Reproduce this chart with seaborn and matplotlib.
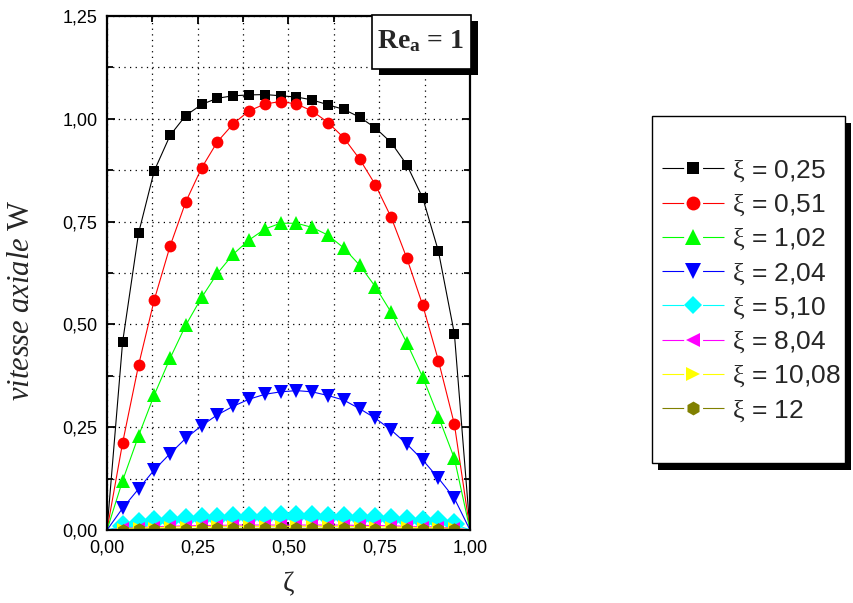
import matplotlib
matplotlib.use("Agg")
import matplotlib.pyplot as plt
from matplotlib.patches import Rectangle
from matplotlib.lines import Line2D
from matplotlib.legend_handler import HandlerTuple
from matplotlib.ticker import MultipleLocator, FuncFormatter
import seaborn as sns
import pandas as pd

# radial coordinate zeta (24 stations across the annulus)
zeta = [0.000, 0.043, 0.087, 0.130, 0.174, 0.217, 0.261, 0.304, 0.348, 0.391,
        0.435, 0.478, 0.522, 0.565, 0.609, 0.652, 0.696, 0.739, 0.783, 0.826,
        0.870, 0.913, 0.957, 1.000]

# axial velocity W for each axial position xi
w_025 = [0, 0.457, 0.722, 0.873, 0.960, 1.008, 1.035, 1.050, 1.056, 1.058,
         1.059, 1.056, 1.053, 1.046, 1.034, 1.023, 1.004, 0.978, 0.942, 0.888,
         0.807, 0.678, 0.477, 0]
w_051 = [0, 0.212, 0.401, 0.559, 0.691, 0.798, 0.881, 0.944, 0.988, 1.019,
         1.036, 1.042, 1.036, 1.019, 0.991, 0.954, 0.902, 0.840, 0.760, 0.661,
         0.546, 0.412, 0.257, 0]
w_102 = [0, 0.120, 0.229, 0.328, 0.418, 0.498, 0.566, 0.624, 0.671, 0.705,
         0.732, 0.746, 0.746, 0.736, 0.717, 0.686, 0.644, 0.592, 0.529, 0.455,
         0.371, 0.276, 0.174, 0]
w_204 = [0, 0.053, 0.100, 0.146, 0.186, 0.223, 0.254, 0.280, 0.301, 0.318,
         0.330, 0.336, 0.339, 0.336, 0.327, 0.316, 0.295, 0.272, 0.243, 0.209,
         0.170, 0.126, 0.077, 0]
w_510 = [0, 0.010, 0.016, 0.022, 0.024, 0.027, 0.028, 0.030, 0.031, 0.032,
         0.032, 0.033, 0.035, 0.035, 0.032, 0.032, 0.030, 0.028, 0.027, 0.024,
         0.022, 0.021, 0.014, 0]
w_804 = [0, 0.004, 0.006, 0.008, 0.009, 0.010, 0.011, 0.011, 0.012, 0.012,
         0.012, 0.012, 0.012, 0.012, 0.012, 0.012, 0.011, 0.011, 0.010, 0.009,
         0.008, 0.007, 0.005, 0]
w_1008 = [0, 0.003, 0.005, 0.006, 0.007, 0.008, 0.008, 0.009, 0.009, 0.009,
          0.009, 0.009, 0.009, 0.009, 0.009, 0.009, 0.008, 0.008, 0.007, 0.007,
          0.006, 0.005, 0.004, 0]
w_12 = [0, 0.001, 0.002, 0.003, 0.003, 0.003, 0.004, 0.004, 0.004, 0.004,
        0.004, 0.004, 0.004, 0.004, 0.004, 0.004, 0.004, 0.003, 0.003, 0.003,
        0.003, 0.002, 0.002, 0]

xi_labels = ["0,25", "0,51", "1,02", "2,04", "5,10", "8,04", "10,08", "12"]
profiles = [w_025, w_051, w_102, w_204, w_510, w_804, w_1008, w_12]
colors = ["#000000", "#ff0000", "#00ff00", "#0000ff", "#00ffff", "#ff00ff",
          "#ffff00", "#808000"]
markers = ["s", "o", "^", "v", "D", "<", ">", "h"]
msizes = [7.5, 8.5, 9.5, 9.5, 11.5, 9.0, 9.0, 9.0]
legend_msizes = [9.0, 10.0, 11.0, 11.0, 9.5, 10.5, 10.5, 10.0]

sns.set_style("ticks")
plt.rcParams["font.family"] = ["Liberation Sans", "DejaVu Sans"]
plt.rcParams["mathtext.fontset"] = "custom"
plt.rcParams["mathtext.rm"] = "Liberation Serif"
plt.rcParams["mathtext.it"] = "Liberation Serif:italic"
plt.rcParams["mathtext.bf"] = "Liberation Serif:bold"

W, H = 854, 603
fig = plt.figure(figsize=(W / 100, H / 100), dpi=100)
ax = fig.add_axes([107 / W, 1 - 530 / H, 363 / W, 514 / H])

for lab, w, c, m, s in zip(xi_labels, profiles, colors, markers, msizes):
    df = pd.DataFrame({"zeta": zeta, "W": w})
    sns.lineplot(data=df, x="zeta", y="W", ax=ax, color=c, marker=m,
                 markersize=s, markeredgewidth=0, linewidth=0.8,
                 markevery=slice(1, -1), label=r"$\mathrm{\xi}$ = " + lab)

_, labels = ax.get_legend_handles_labels()
ax.get_legend().remove()

ax.set_xlim(0, 1)
ax.set_ylim(0, 1.25)
ax.xaxis.set_major_locator(MultipleLocator(0.25))
ax.xaxis.set_minor_locator(MultipleLocator(0.125))
ax.yaxis.set_major_locator(MultipleLocator(0.25))
ax.yaxis.set_minor_locator(MultipleLocator(0.125))
fmt = FuncFormatter(lambda v, _: f"{v:.2f}".replace(".", ","))
ax.xaxis.set_major_formatter(fmt)
ax.yaxis.set_major_formatter(fmt)
ax.set_axisbelow(True)
ax.grid(which="both", color="black", linestyle=(0, (1, 3.5)), linewidth=0.9)
ax.tick_params(which="both", direction="in", top=True, right=True,
               width=1.3, labelsize=13, pad=7, colors="black")
ax.tick_params(which="major", length=6)
ax.tick_params(which="minor", length=4)
for sp in ax.spines.values():
    sp.set_linewidth(1.6)
    sp.set_color("black")
ax.set_xlabel("")
ax.set_ylabel("")

fig.text(22 / W, 1 - 300 / H, r"$\mathit{vitesse\ axiale}$ W",
         family="Liberation Serif", fontsize=22, rotation=90,
         ha="center", va="center")
fig.text(289 / W, 1 - 585 / H, "ζ", family="Liberation Serif",
         fontsize=20, ha="center", va="center")


def shadow_box(x0, y0, x1, y1, dx, dy, lw):
    """Framed white box with a black drop shadow, in pixel coordinates."""
    fig.add_artist(Rectangle(((x0 + dx) / W, 1 - (y1 + dy) / H),
                             (x1 - x0) / W, (y1 - y0) / H,
                             transform=fig.transFigure, facecolor="black",
                             edgecolor="none", zorder=5))
    fig.add_artist(Rectangle((x0 / W, 1 - y1 / H), (x1 - x0) / W,
                             (y1 - y0) / H, transform=fig.transFigure,
                             facecolor="white", edgecolor="black",
                             linewidth=lw, zorder=6))


# Reynolds number tag
shadow_box(372, 15, 471, 69, 7, 6, 1.2)
fig.text(421 / W, 1 - 48 / H, r"Re$_{\mathbf{a}}$ = 1",
         family="Liberation Serif", weight="bold", fontsize=20,
         ha="center", va="baseline", zorder=7)

# legend keys: broken line with the marker sitting in the gap
handles = []
for c, m, s in zip(colors, markers, legend_msizes):
    seg = Line2D([], [], color=c, linewidth=0.8,
                 linestyle=(0, (19.5, 17, 40)))
    dot = Line2D([], [], color=c, marker=m, markersize=s,
                 markeredgewidth=0, linestyle="none")
    handles.append((seg, dot))

shadow_box(652, 116, 845, 463, 6, 7, 1.0)
leg = fig.legend(handles, labels, loc="center left",
                 bbox_to_anchor=(662 / W, 1 - 291 / H), frameon=False,
                 fontsize=19, handlelength=2.35, handletextpad=0.3,
                 labelspacing=0.33, borderpad=0, borderaxespad=0,
                 handler_map={tuple: HandlerTuple(ndivide=1, pad=0)})
leg.set_zorder(8)

fig.savefig("out.png", dpi=100)
